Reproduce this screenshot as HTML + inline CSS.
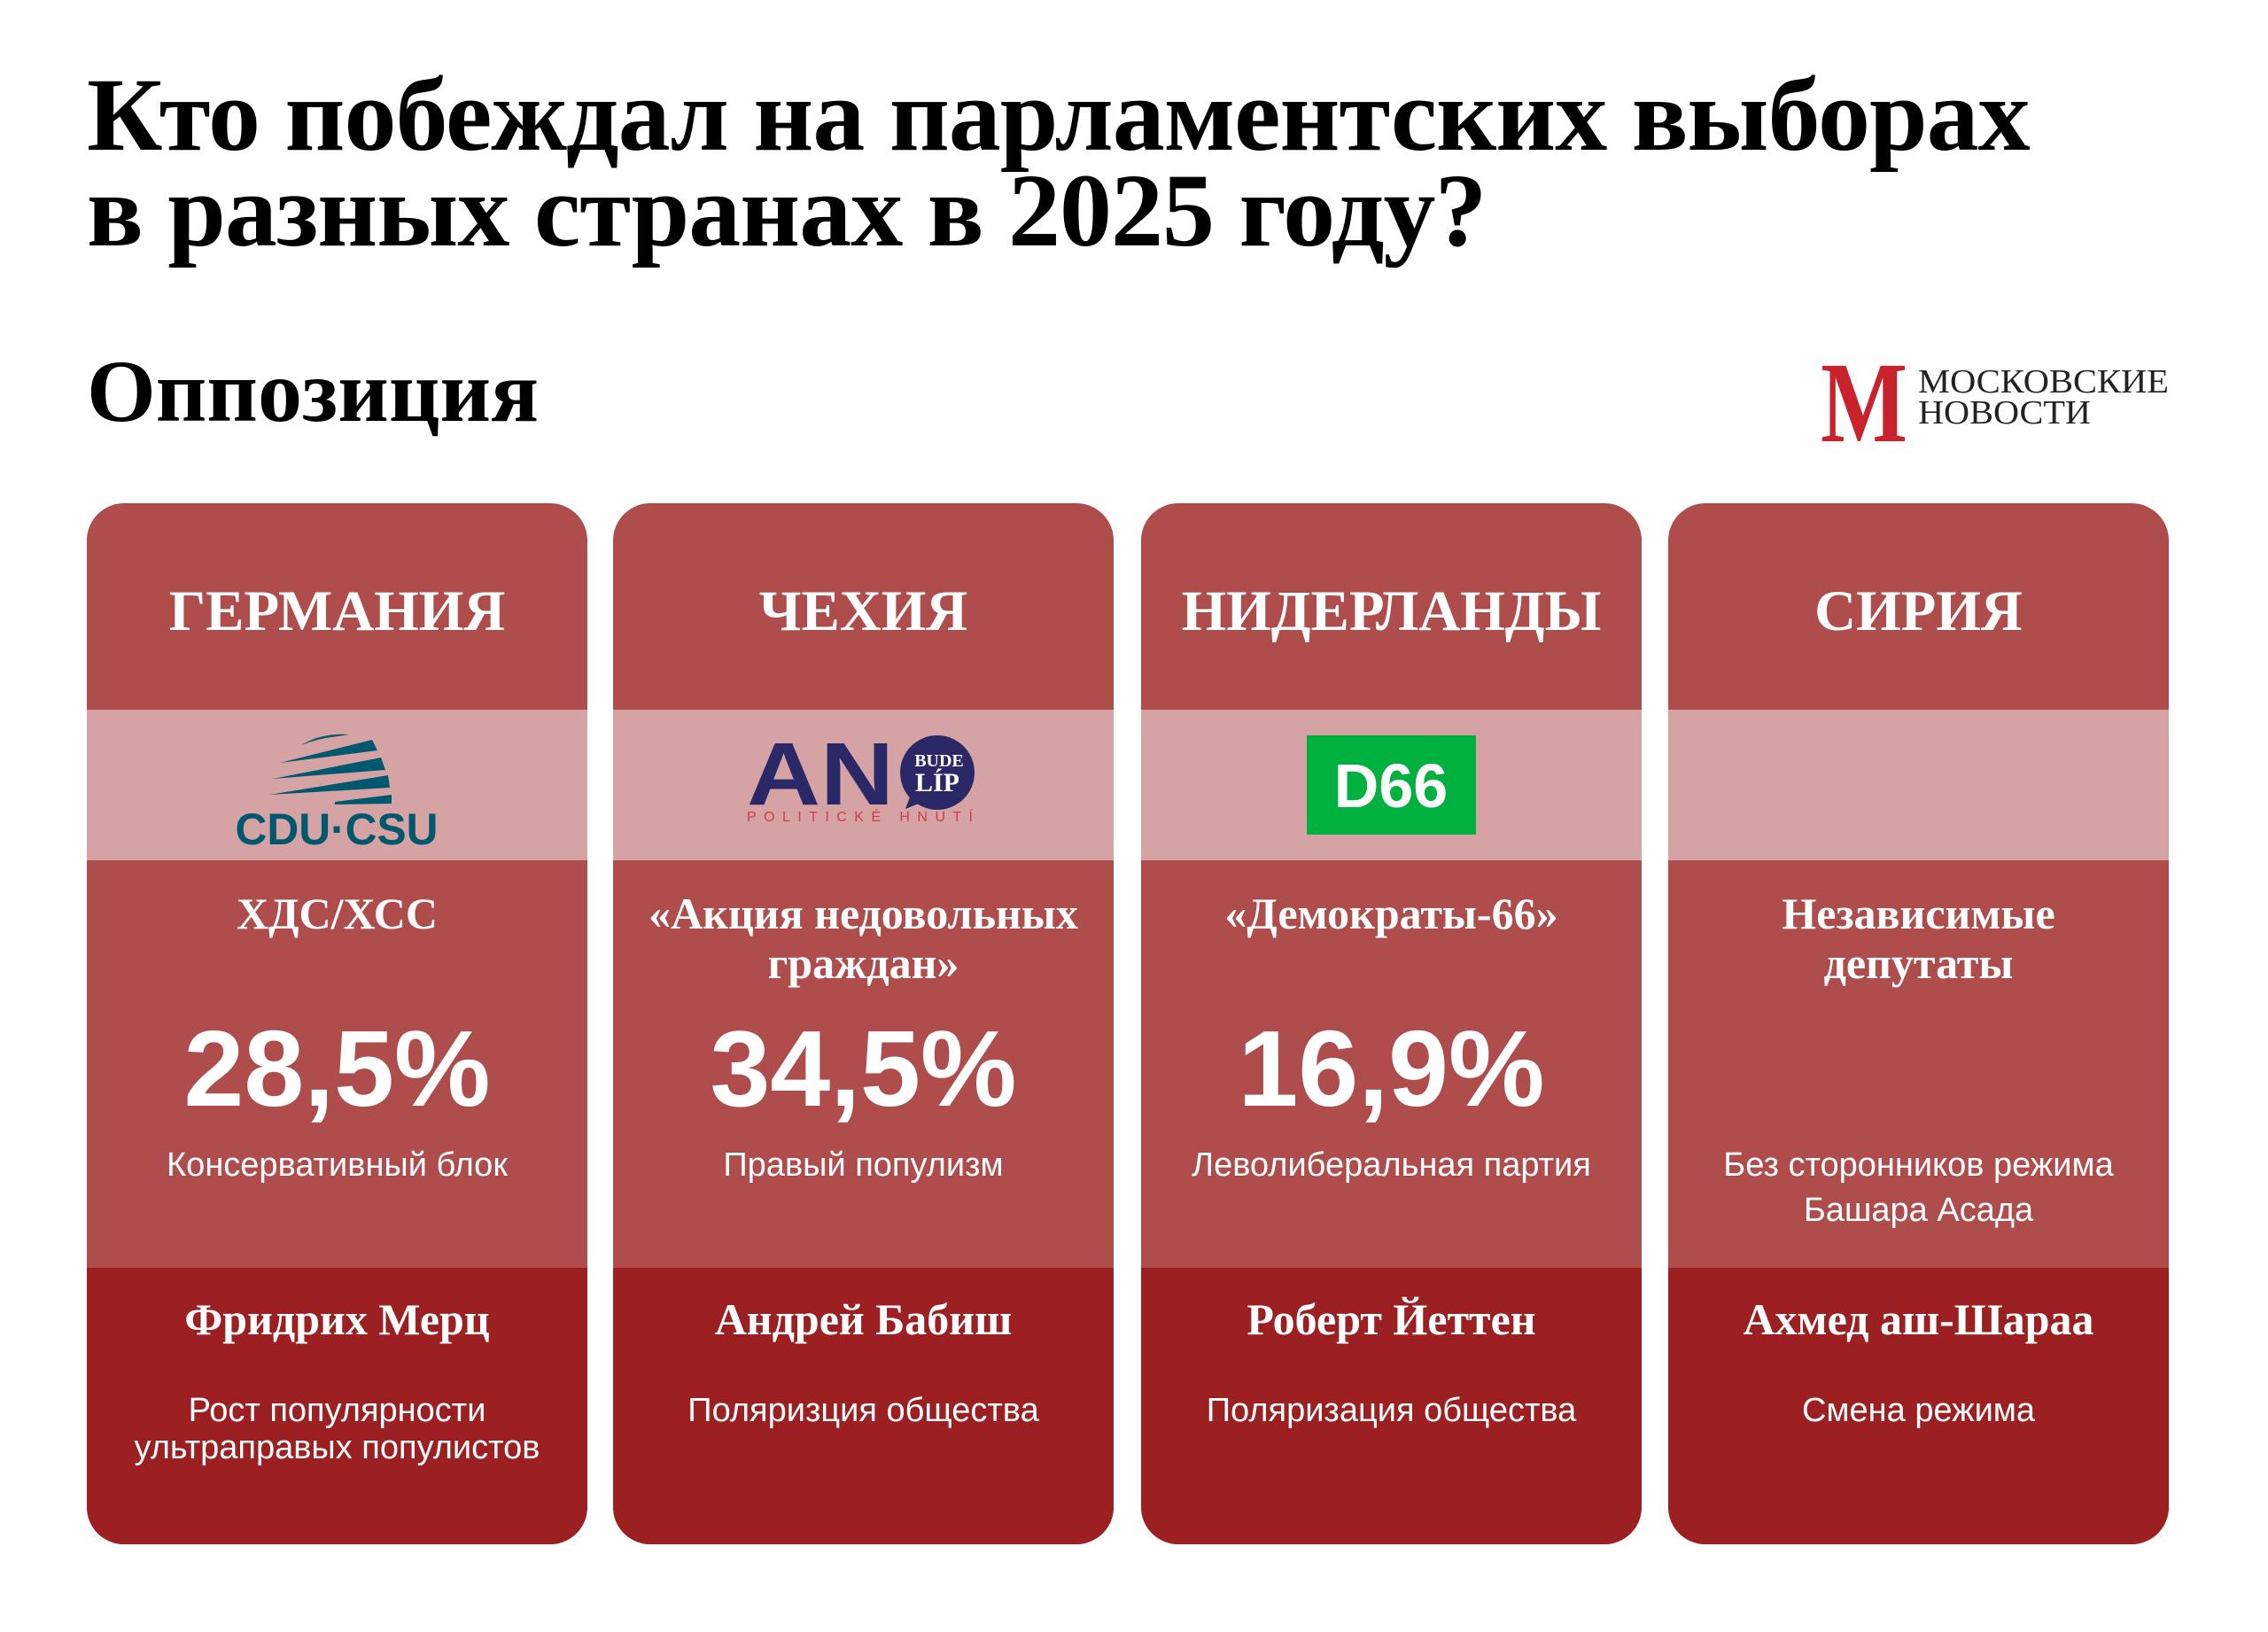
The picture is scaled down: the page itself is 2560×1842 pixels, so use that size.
<!DOCTYPE html>
<html><head><meta charset="utf-8"><style>
*{margin:0;padding:0;box-sizing:border-box}
body{width:2560px;height:1842px;background:#fff;position:relative;overflow:hidden;font-family:"Liberation Sans",sans-serif}
.t{position:absolute;white-space:nowrap}
.serif{font-family:"Liberation Serif",serif;font-weight:bold}
.card{position:absolute;top:568px;width:565px;height:1175px;border-radius:42px;overflow:hidden;background:#AF4C4C;color:#fff;text-align:center}
.band{position:absolute;left:0;right:0;top:233px;height:170px;background:#D5A3A3}
.bot{position:absolute;left:0;right:0;top:863px;bottom:0;background:#9C1F22}
.c{position:absolute;left:0;right:0;white-space:nowrap}
.country{top:90px;font:bold 65px/1 "Liberation Serif",serif}
.party{top:435px;font:bold 50px/56px "Liberation Serif",serif}
.pct{top:577px;font:bold 122px/1 "Liberation Sans",sans-serif}
.desc{top:722px;font:38px/51px "Liberation Sans",sans-serif}
.lead{top:896px;font:bold 50px/1 "Liberation Serif",serif}
.bdesc{top:1003px;font:38px/42px "Liberation Sans",sans-serif}
</style></head><body>
<div class="t serif" style="left:98px;top:76px;font-size:118px;line-height:108px;letter-spacing:-1px">Кто побеждал на парламентских выборах<br>в разных странах в 2025 году?</div>
<div class="t serif" style="left:98px;top:392px;font-size:100px;line-height:1">Оппозиция</div>
<svg style="position:absolute;left:2050px;top:400px" width="420" height="110">
<text x="5" y="98" font-family="Liberation Serif,serif" font-weight="bold" font-size="130" fill="#C8232C" textLength="98" lengthAdjust="spacingAndGlyphs">M</text>
<text x="115" y="43" font-family="Liberation Serif,serif" font-size="38" fill="#222" textLength="283" lengthAdjust="spacingAndGlyphs">МОСКОВСКИЕ</text>
<text x="115" y="78" font-family="Liberation Serif,serif" font-size="38" fill="#222" textLength="195" lengthAdjust="spacingAndGlyphs">НОВОСТИ</text>
</svg>

<div class="card" style="left:98px">
<div class="band"><svg width="565" height="170">
<g fill="#00586F" transform="translate(204,20)">
<path d="M38,20 Q60,6 92,8 L80,10 Q58,12 38,20Z"/>
<path d="M14,40 L118,14 L124,26Z"/>
<path d="M6,58 L128,34 L133,48Z"/>
<path d="M2,76 L136,54 L138,68Z"/>
<path d="M76,84 L140,76 L140,86 L76,87Z"/>
</g>
<text x="282" y="152" text-anchor="middle" font-family="Liberation Sans,sans-serif" font-weight="bold" font-size="50" fill="#00586F" textLength="229" lengthAdjust="spacingAndGlyphs">CDU·CSU</text>
</svg></div>
<div class="bot"></div>
<div class="c country">ГЕРМАНИЯ</div>
<div class="c party">ХДС/ХСС</div>
<div class="c pct">28,5%</div>
<div class="c desc">Консервативный блок</div>
<div class="c lead">Фридрих Мерц</div>
<div class="c bdesc">Рост популярности<br>ультраправых популистов</div>
</div>

<div class="card" style="left:692px">
<div class="band"><svg width="565" height="170">
<text x="151" y="107" font-family="Liberation Sans,sans-serif" font-weight="bold" font-size="100" fill="#2A2866" textLength="166" lengthAdjust="spacingAndGlyphs">AN</text>
<circle cx="366" cy="71" r="42" fill="#2A2866"/>
<path d="M336,96 L330,112 L350,104Z" fill="#2A2866"/>
<text x="368" y="64" text-anchor="middle" font-family="Liberation Serif,serif" font-weight="bold" font-size="20" fill="#fff">BUDE</text>
<text x="366" y="92" text-anchor="middle" font-family="Liberation Serif,serif" font-weight="bold" font-size="30" fill="#fff">LÍP</text>
<text x="151" y="126" font-family="Liberation Sans,sans-serif" font-size="16" fill="#D23A48" textLength="255" lengthAdjust="spacing">POLITICKÉ HNUTÍ</text>
</svg></div>
<div class="bot"></div>
<div class="c country">ЧЕХИЯ</div>
<div class="c party">«Акция недовольных<br>граждан»</div>
<div class="c pct">34,5%</div>
<div class="c desc">Правый популизм</div>
<div class="c lead">Андрей Бабиш</div>
<div class="c bdesc">Поляризция общества</div>
</div>

<div class="card" style="left:1288px">
<div class="band"><svg width="565" height="170">
<rect x="187" y="29" width="191" height="112" fill="#00B140"/>
<text x="282" y="110" text-anchor="middle" font-family="Liberation Sans,sans-serif" font-weight="bold" font-size="70" fill="#fff">D66</text>
</svg></div>
<div class="bot"></div>
<div class="c country">НИДЕРЛАНДЫ</div>
<div class="c party">«Демократы-66»</div>
<div class="c pct">16,9%</div>
<div class="c desc">Леволиберальная партия</div>
<div class="c lead">Роберт Йеттен</div>
<div class="c bdesc">Поляризация общества</div>
</div>

<div class="card" style="left:1883px">
<div class="band"></div>
<div class="bot"></div>
<div class="c country">СИРИЯ</div>
<div class="c party">Независимые<br>депутаты</div>
<div class="c desc">Без сторонников режима<br>Башара Асада</div>
<div class="c lead">Ахмед аш-Шараа</div>
<div class="c bdesc">Смена режима</div>
</div>
</body></html>
